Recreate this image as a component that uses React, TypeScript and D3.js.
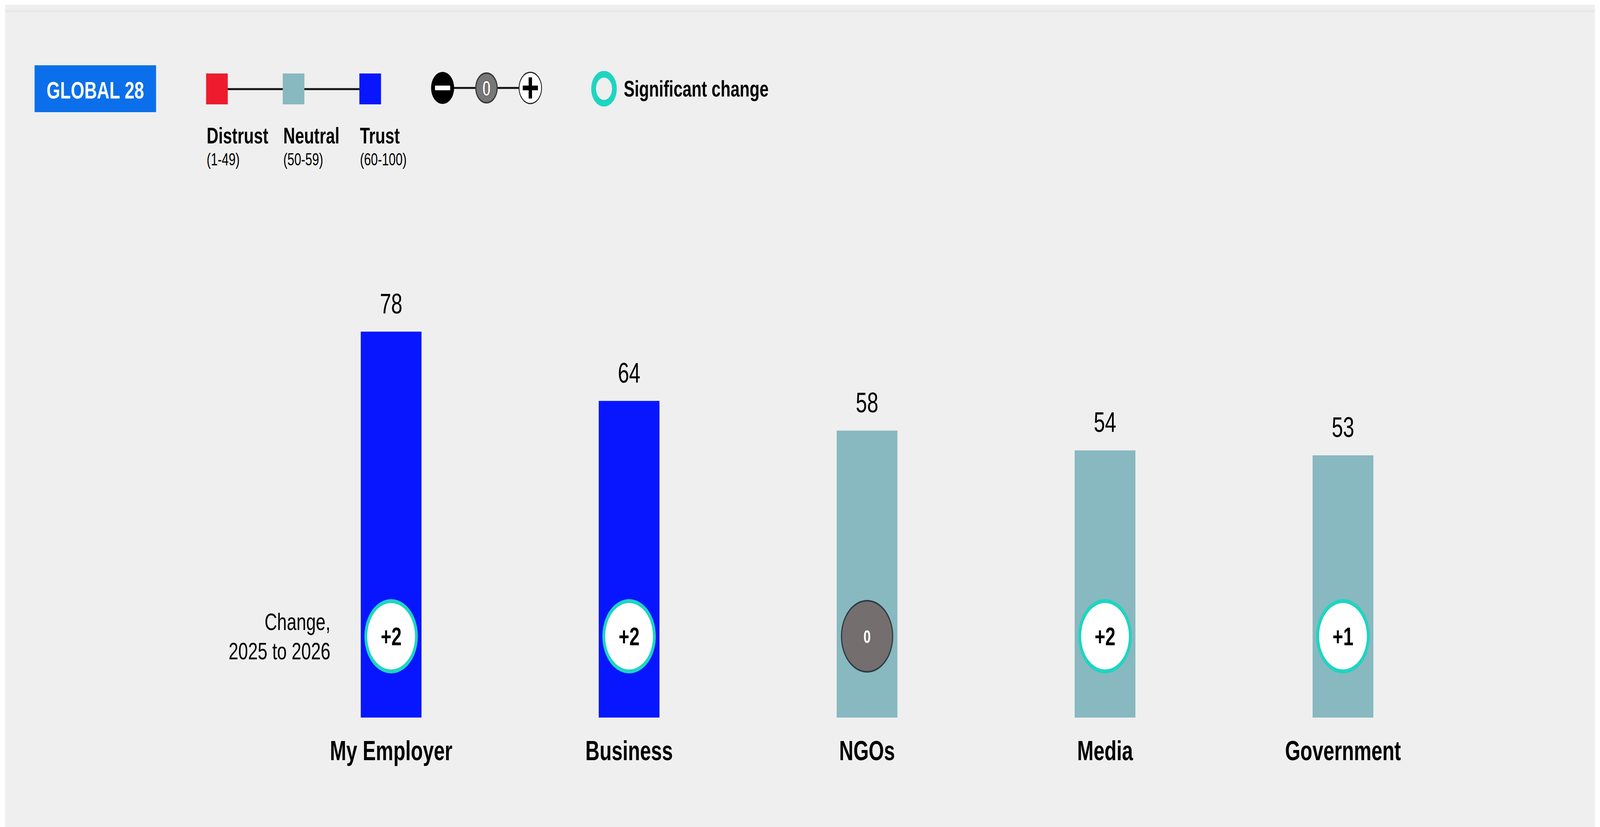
import React from "react";
import * as d3 from "d3";

const categories = ["My Employer", "Business", "NGOs", "Media", "Government"];
const trustValues = [78, 64, 58, 54, 53];
const changeValues = [2, 2, 0, 2, 1];
const significant = [true, true, false, true, true];

const legendLevels = ["Distrust", "Neutral", "Trust"];
const legendRanges = ["(1-49)", "(50-59)", "(60-100)"];
const legendColors = ["#EE1B2E", "#88B8C0", "#0716FF"];

const W = 5690;
const H = 2116;
const FONT = "'Liberation Sans', Arial, Helvetica, sans-serif";
const TEAL = "#1ED5C0";

function levelColor(v: number) {
  if (v >= 60) return legendColors[2];
  if (v >= 50) return legendColors[1];
  return legendColors[0];
}

export default function App() {
  const x = d3.scalePoint<string>().domain(categories).range([1391, 4776]);
  const y = d3.scaleLinear().domain([0, 100]).range([1836, 570]);
  const barW = 216;
  const circleY = 1628;
  const fmt = d3.format("+d");

  const legendX = d3.scalePoint<string>().domain(legendLevels).range([733, 1278]);
  const iconX = d3.scalePoint<string>().domain(["-", "0", "+"]).range([1574, 1886]);

  return (
    <svg
      viewBox={`0 0 ${W} ${H}`}
      preserveAspectRatio="none"
      style={{ position: "fixed", left: 0, top: 0, width: "100vw", height: "100vh", display: "block" }}
      fontFamily={FONT}
    >
      <rect x={0} y={0} width={W} height={H} fill="#ffffff" />
      <rect x={18} y={12} width={5654} height={H - 12} fill="#efefef" />
      <rect x={18} y={26} width={5654} height={6} fill="#e8e8e8" />

      {/* GLOBAL 28 tag */}
      <rect x={123} y={167} width={432} height={120} fill="#0B6FEB" />
      <text x={339} y={252} textAnchor="middle" fontSize={62} fontWeight="bold" fill="#ffffff">
        GLOBAL 28
      </text>

      {/* Trust level legend */}
      <line x1={771} x2={1316} y1={228} y2={228} stroke="#111" strokeWidth={5} />
      {legendLevels.map((lv, i) => (
        <g key={lv}>
          <rect x={legendX(lv)} y={188} width={77} height={79} fill={legendColors[i]} />
          <text x={(legendX(lv) as number) + 2} y={367} fontSize={58} fontWeight="bold" fill="#000">
            {lv}
          </text>
          <text x={(legendX(lv) as number) + 2} y={423} fontSize={44} fill="#000">
            {legendRanges[i]}
          </text>
        </g>
      ))}

      {/* change icons legend */}
      <line x1={1574} x2={1886} y1={225} y2={225} stroke="#111" strokeWidth={5} />
      <circle cx={iconX("-")} cy={225} r={41} fill="#000" />
      <rect x={(iconX("-") as number) - 27} y={219} width={54} height={12} fill="#fff" />
      <circle cx={iconX("0")} cy={225} r={38} fill="#777" stroke="#3a3a3a" strokeWidth={4} />
      <text
        x={iconX("0")}
        y={245}
        textAnchor="middle"
        fontSize={56}
        fontWeight="bold"
        fill="#fff"
        stroke="#555"
        strokeWidth={1.5}
      >
        0
      </text>
      <circle cx={iconX("+")} cy={225} r={40} fill="#fff" stroke="#222" strokeWidth={3} />
      <rect x={(iconX("+") as number) - 27} y={219} width={54} height={12} fill="#000" />
      <rect x={(iconX("+") as number) - 6} y={198} width={12} height={54} fill="#000" />

      {/* significant change legend */}
      <circle cx={2148} cy={227} r={37} fill="none" stroke={TEAL} strokeWidth={17} />
      <text x={2218} y={247} fontSize={58} fontWeight="bold" fill="#000">
        Significant change
      </text>

      {/* Bars */}
      {categories.map((c, i) => {
        const cx = x(c) as number;
        const top = y(trustValues[i]);
        return (
          <g key={c}>
            <rect x={cx - barW / 2} y={top} width={barW} height={y(0) - top} fill={levelColor(trustValues[i])} />
            <text x={cx} y={top - 47} textAnchor="middle" fontSize={72} fill="#000">
              {trustValues[i]}
            </text>
            <text x={cx} y={1945} textAnchor="middle" fontSize={70} fontWeight="bold" fill="#000">
              {c}
            </text>
            {significant[i] ? (
              <g>
                <circle cx={cx} cy={circleY} r={90} fill="#ffffff" stroke={TEAL} strokeWidth={10} />
                <text x={cx} y={circleY + 23} textAnchor="middle" fontSize={65} fontWeight="bold" fill="#000">
                  {changeValues[i] === 0 ? "0" : fmt(changeValues[i])}
                </text>
              </g>
            ) : (
              <g>
                <circle cx={cx} cy={circleY} r={91} fill="#746e6f" stroke="#2b3a42" strokeWidth={4} />
                <text x={cx} y={circleY + 17} textAnchor="middle" fontSize={46} fontWeight="bold" fill="#fff">
                  {changeValues[i] === 0 ? "0" : fmt(changeValues[i])}
                </text>
              </g>
            )}
          </g>
        );
      })}

      {/* change label */}
      <text x={1175} y={1612} textAnchor="end" fontSize={62} fill="#000">
        Change,
      </text>
      <text x={1175} y={1687} textAnchor="end" fontSize={62} fill="#000">
        2025 to 2026
      </text>
    </svg>
  );
}
